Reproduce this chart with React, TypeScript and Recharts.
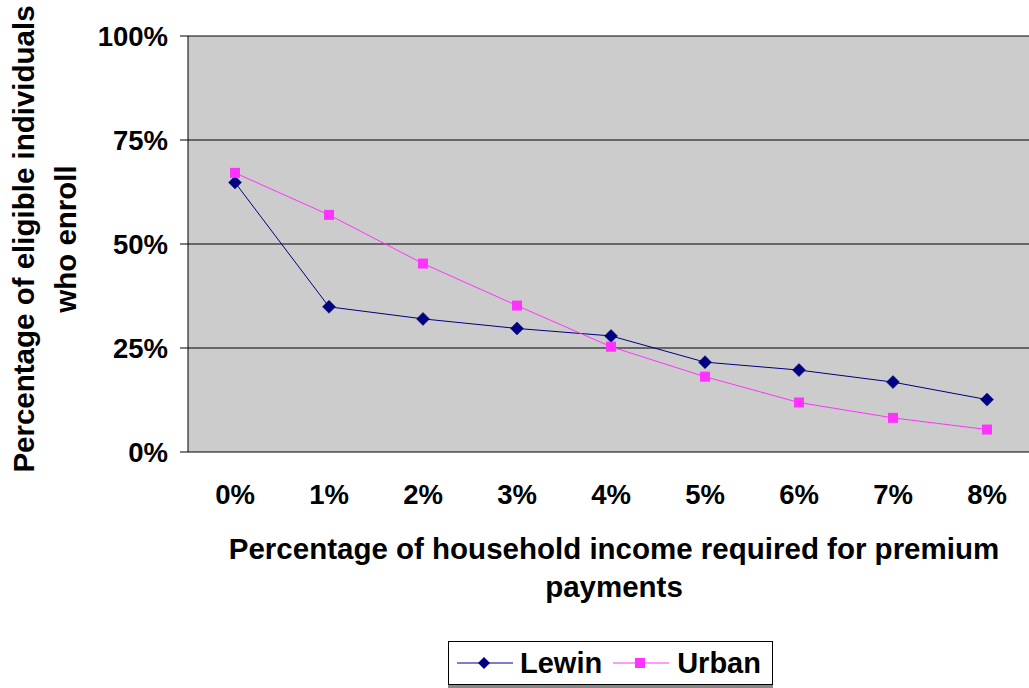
import * as React from "react";
import {
  LineChart,
  Line,
  XAxis,
  YAxis,
  CartesianGrid,
  Legend,
  Label,
} from "recharts";

const categories = ["0%", "1%", "2%", "3%", "4%", "5%", "6%", "7%", "8%"];
const lewin = [64.8, 34.9, 32.0, 29.7, 27.9, 21.6, 19.7, 16.8, 12.6];
const urban = [67.1, 57.0, 45.3, 35.2, 25.3, 18.1, 11.9, 8.2, 5.4];
const yTicks = [0, 25, 50, 75, 100];
const bandEdges = [-0.5, 0.5, 1.5, 2.5, 3.5, 4.5, 5.5, 6.5, 7.5, 8.5];
const labelTicks = [0, 1, 2, 3, 4, 5, 6, 7, 8];

const data = categories.map((c, i) => ({
  idx: i,
  label: c,
  Lewin: lewin[i],
  Urban: urban[i],
}));

const FONT = "'Liberation Sans', Arial, sans-serif";
const NAVY = "#000080";
const PINK = "#ff33ff";

function Diamond(props) {
  const { cx, cy, index } = props;
  const r = 6.5;
  return (
    <path
      key={"d" + index}
      d={`M${cx},${cy - r}L${cx + r},${cy}L${cx},${cy + r}L${cx - r},${cy}Z`}
      fill={NAVY}
      stroke={NAVY}
      strokeWidth={0.5}
    />
  );
}

function Square(props) {
  const { cx, cy, index } = props;
  const s = 10;
  return (
    <rect key={"s" + index} x={cx - s / 2} y={cy - s / 2} width={s} height={s} fill={PINK} />
  );
}

function LegendBox() {
  const txt = { fontFamily: FONT, fontWeight: "bold", fontSize: 29, color: "#000", lineHeight: "29px" };
  return (
    <div
      style={{
        border: "1px solid #000",
        boxShadow: "0 3px 0 #888",
        background: "#fff",
        height: 44,
        display: "flex",
        alignItems: "center",
        boxSizing: "border-box",
        paddingLeft: 8,
      }}
    >
      <svg width={56} height={20}>
        <line x1={0} y1={10} x2={56} y2={10} stroke={NAVY} strokeWidth={1.2} />
        <path d="M27,4L33,10L27,16L21,10Z" fill={NAVY} />
      </svg>
      <span style={{ ...txt, marginLeft: 7 }}>Lewin</span>
      <svg width={56} height={20} style={{ marginLeft: 11 }}>
        <line x1={0} y1={10} x2={56} y2={10} stroke={PINK} strokeWidth={1.2} />
        <rect x={22} y={5} width={10} height={10} fill={PINK} />
      </svg>
      <span style={{ ...txt, marginLeft: 8 }}>Urban</span>
    </div>
  );
}

export default function App() {
  return (
    <div
      style={{
        position: "absolute",
        left: 0,
        top: 0,
        width: 1029,
        height: 688,
        overflow: "hidden",
        background: "#fff",
      }}
    >
      <LineChart
        width={1040}
        height={688}
        data={data}
        margin={{ top: 36, right: 6, left: 0, bottom: 176 }}
      >
        <CartesianGrid
          vertical={false}
          stroke="#000"
          fill="#cccccc"
          fillOpacity={1}
        />
        <XAxis
          xAxisId="ticks"
          dataKey="idx"
          type="number"
          domain={[-0.5, 8.5]}
          ticks={bandEdges}
          tickFormatter={() => ""}
          tickSize={8}
          height={0}
          axisLine={{ stroke: "#666", strokeWidth: 1.5 }}
          tickLine={{ stroke: "#000" }}
          interval={0}
        />
        <XAxis
          xAxisId="labels"
          dataKey="idx"
          type="number"
          domain={[-0.5, 8.5]}
          ticks={labelTicks}
          tickFormatter={(v) => categories[v]}
          axisLine={false}
          tickLine={false}
          tickSize={0}
          tickMargin={32}
          height={60}
          interval={0}
          tick={{ fontFamily: FONT, fontWeight: "bold", fontSize: 27.5, fill: "#000" }}
        >
          <Label
            content={() => (
              <text
                textAnchor="middle"
                fontFamily={FONT}
                fontWeight="bold"
                fontSize={29.5}
                fill="#000"
              >
                <tspan x={614} y={559}>
                  Percentage of household income required for premium
                </tspan>
                <tspan x={614} y={597}>
                  payments
                </tspan>
              </text>
            )}
          />
        </XAxis>
        <YAxis
          width={188}
          domain={[0, 100]}
          ticks={yTicks}
          tickFormatter={(v) => v + "%"}
          tickSize={8}
          tickMargin={12}
          axisLine={{ stroke: "#000" }}
          tickLine={{ stroke: "#000" }}
          tick={{ fontFamily: FONT, fontWeight: "bold", fontSize: 27.5, fill: "#000" }}
        >
          <Label
            content={() => (
              <text
                transform="translate(34,239) rotate(-90)"
                textAnchor="middle"
                fontFamily={FONT}
                fontWeight="bold"
                fontSize={29.5}
                fill="#000"
              >
                <tspan x={0} y={0}>
                  Percentage of eligible individuals
                </tspan>
                <tspan x={0} y={42}>
                  who enroll
                </tspan>
              </text>
            )}
          />
        </YAxis>
        <Line
          xAxisId="ticks"
          dataKey="Lewin"
          stroke={NAVY}
          strokeWidth={1}
          dot={Diamond}
          activeDot={false}
          isAnimationActive={false}
        />
        <Line
          xAxisId="ticks"
          dataKey="Urban"
          stroke={PINK}
          strokeWidth={1}
          dot={Square}
          activeDot={false}
          isAnimationActive={false}
        />
        <Legend
          layout="vertical"
          align="center"
          verticalAlign="middle"
          content={() => <LegendBox />}
          wrapperStyle={{ position: "absolute", left: 448, top: 641, width: 325, bottom: "auto", right: "auto" }}
        />
      </LineChart>
    </div>
  );
}
